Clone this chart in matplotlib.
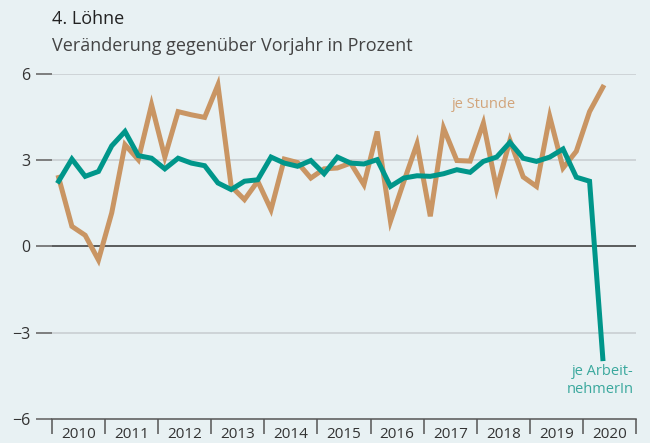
import numpy as np
import matplotlib
matplotlib.use("Agg")
from matplotlib import pyplot as plt

# quarterly values 2010Q1 .. 2020Q2, change vs previous year in percent
je_stunde = [2.4, 0.7, 0.39, -0.47, 1.17, 3.54, 3.02, 4.93, 3.11, 4.69,
             4.58, 4.49, 5.62, 2.09, 1.63, 2.27, 1.28, 3.04, 2.92, 2.38,
             2.70, 2.73, 2.90, 2.15, 4.0, 0.88, 2.25, 3.57, 1.05, 4.12,
             2.99, 2.97, 4.29, 2.0, 3.69, 2.42, 2.09, 4.52, 2.73, 3.31,
             4.69, 5.54]
je_arbeitnehmer = [2.27, 3.04, 2.44, 2.61, 3.5, 4.0, 3.16, 3.07, 2.7, 3.07,
                   2.9, 2.81, 2.21, 1.98, 2.27, 2.32, 3.11, 2.9, 2.79, 2.99,
                   2.53, 3.11, 2.9, 2.87, 3.02, 2.09, 2.38, 2.46, 2.44, 2.53,
                   2.67, 2.58, 2.96, 3.11, 3.62, 3.07, 2.96, 3.11, 3.39, 2.41,
                   2.27, -3.9]
years = list(range(2010, 2021))
yticks = [-6, -3, 0, 3, 6]

bg = "#e8f1f3"
brown = "#c99563"
teal = "#00968a"

plt.rcParams['font.family'] = ['Open Sans', 'DejaVu Sans']

fig = plt.figure(figsize=(6.5, 4.43), dpi=100, facecolor=bg)
ax = fig.add_axes([0.08, 0.0542, 0.8985, 0.7788], facecolor=bg)

n = len(je_stunde)
x = 2010 + (np.arange(n) + 0.5) / 4

for y in [3, 6, -3]:
    ax.axhline(y, color="#c9cfd2", lw=1.2, zorder=1)
ax.axhline(0, color="#333333", lw=1.1, zorder=1)

ax.plot(x, je_stunde, color=brown, lw=3.6, solid_joinstyle="miter", zorder=3)
ax.plot(x, je_arbeitnehmer, color=teal, lw=3.6, solid_joinstyle="miter", zorder=4)

ax.set_xlim(2010, 2021)
ax.set_ylim(-6, 6)

for s in ["top", "right", "left"]:
    ax.spines[s].set_visible(False)
ax.spines["bottom"].set_color("#555555")
ax.spines["bottom"].set_linewidth(1.1)

ax.set_yticks(yticks)
ax.set_yticklabels([str(v).replace("-", "\u2212") for v in yticks])
ax.tick_params(axis="y", length=11.5, width=1.2, color="#6a6a6a", pad=4,
               labelsize=11.5, labelcolor="#333333")

ax.set_xticks(years + [2021])
ax.set_xticklabels([])
ax.tick_params(axis="x", which="major", length=11, width=1.1, color="#555555")
ax.set_xticks([y + 0.5 for y in years], minor=True)
ax.set_xticklabels([str(y) for y in years], minor=True)
ax.tick_params(axis="x", which="minor", length=0, pad=5.5, labelsize=11,
               labelcolor="#333333")

ax.text(2018.13, 4.93, "je Stunde", color="#d2a57c", fontsize=10.5,
        ha="center", va="center")
ax.text(2020.95, -4.65, "je Arbeit-\nnehmerIn", color="#3aa89d", fontsize=10.5,
        ha="right", va="center", linespacing=1.25)

fig.text(0.08, 0.957, "4. Löhne", fontsize=13, color="#222222", va="center")
fig.text(0.08, 0.897, "Veränderung gegenüber Vorjahr in Prozent", fontsize=13,
         color="#444444", va="center")

fig.savefig("out.png", dpi=100, facecolor=bg)
